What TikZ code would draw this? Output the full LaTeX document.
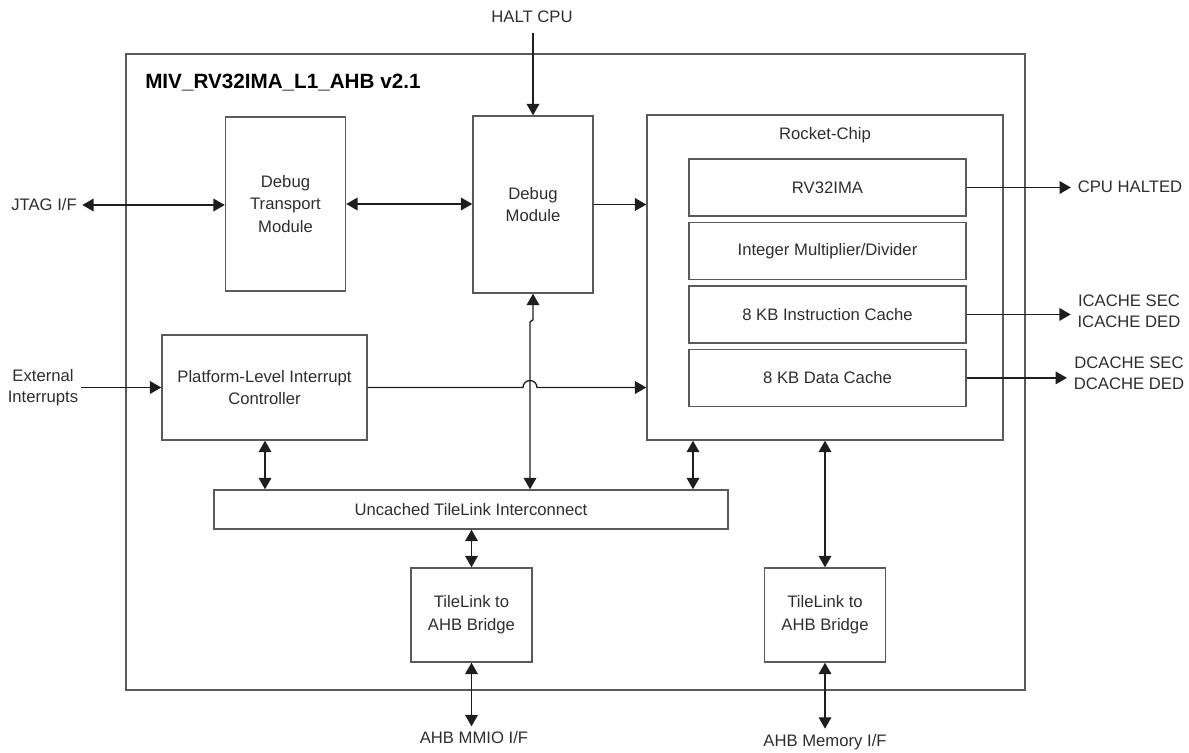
\documentclass[tikz,border=0pt]{standalone}
\usepackage{fontspec}
\setmainfont{Liberation Sans}
\usepackage{xcolor}
\usepackage{tikz}
\usetikzlibrary{arrows.meta, positioning}
\definecolor{BoxGray}{HTML}{5A5A5A}
\definecolor{WireBlack}{HTML}{1E1E1E}
\definecolor{TextGray}{HTML}{2E2E2E}

\begin{document}
\begin{tikzpicture}[
    x=0.75pt, y=-0.75pt,
    every node/.style={font=\fontsize{12.5}{17}\selectfont, text=TextGray},
    blk/.style={
      draw=BoxGray, line width=1.1pt, align=center, inner sep=0pt
    },
    lbl/.style={align=center, inner sep=4pt, font=\fontsize{12.5}{15.5}\selectfont},
    wire/.style={draw=WireBlack, line width=1pt, -{Triangle[length=8.5pt,width=9.5pt]}},
    biwire/.style={wire, {Triangle[length=8.5pt,width=9.5pt]}-{Triangle[length=8.5pt,width=9.5pt]}}
  ]
    \useasboundingbox (0,0) rectangle (1189,753);

    % core frame
    \node[blk, minimum width=674.25pt, minimum height=477pt] (core) at (575.5,372) {};
    \node[anchor=base west, inner sep=0pt, font=\fontsize{15.5}{18}\selectfont\bfseries, text=black]
      (title) at (145,88) {MIV\_RV32IMA\_L1\_AHB v2.1};

    % debug path
    \node[blk, minimum width=90pt, minimum height=130.5pt] (dtm) at (285.5,204) {Debug\\Transport\\Module};
    \node[blk, minimum width=90pt, minimum height=132.75pt] (dbg) at (533,204.5) {Debug\\Module};

    % rocket chip
    \node[blk, minimum width=267pt, minimum height=243.75pt] (rocket) at (825,277.5) {};
    \node[inner sep=0pt] (rcname) at (825,135) {Rocket-Chip};
    \node[blk, minimum width=207.75pt, minimum height=42.75pt] (rv) at (827.5,187.5) {RV32IMA};
    \node[blk, minimum width=207.75pt, minimum height=42.75pt, below=3.75pt of rv] (mul) {Integer Multiplier/Divider};
    \node[blk, minimum width=207.75pt, minimum height=42.75pt, below=3.75pt of mul] (ic) {8 KB Instruction Cache};
    \node[blk, minimum width=207.75pt, minimum height=42.75pt, below=3.75pt of ic] (dc) {8 KB Data Cache};

    % interrupt controller, interconnect, bridges
    \node[blk, minimum width=153.75pt, minimum height=78.75pt] (plic) at (264.5,387.5) {Platform-Level Interrupt\\Controller};
    \node[blk, minimum width=385.5pt, minimum height=29.25pt] (tl) at (471,509.5) {Uncached TileLink Interconnect};
    \node[blk, minimum width=90.75pt, minimum height=70.5pt] (br1) at (471.5,615) {TileLink to\\AHB Bridge};
    \node[blk, minimum width=90.75pt, minimum height=70.5pt] (br2) at (825,615) {TileLink to\\AHB Bridge};

    % external signals
    \node[lbl, inner ysep=7pt] (halt) at (532,17) {HALT CPU};
    \node[lbl] (jtag) at (44,205) {JTAG I/F};
    \node[lbl, inner xsep=2pt] (extint) at (43,388) {External\\Interrupts};
    \node[lbl, inner xsep=5pt] (halted) at (1130,187) {CPU HALTED};
    \node[lbl, inner xsep=5pt] (icerr) at (1129,311) {ICACHE SEC\\ICACHE DED};
    \node[lbl, inner xsep=5pt] (dcerr) at (1129,373) {DCACHE SEC\\DCACHE DED};
    \node[lbl] (mmio) at (474,738) {AHB MMIO I/F};
    \node[lbl] (mem) at (825,742) {AHB Memory I/F};

    \coordinate (jog) at (530,322);
    \coordinate (ptap) at (265,0);
    \coordinate (rtap) at (693,0);

    % connectors
    \draw[wire] (halt.south -| dbg.north) -- (dbg.north);
    \draw[biwire] (jtag.east) -- (jtag.east -| dtm.west);
    \draw[biwire] (dtm.east) -- (dtm.east -| dbg.west);
    \draw[wire] (dbg.east) -- (dbg.east -| rocket.west);
    \draw[wire] (rv.east) -- (rv.east -| halted.west);
    \draw[wire] (ic.east) -- (ic.east -| icerr.west);
    \draw[wire] (dc.east) -- (dc.east -| dcerr.west);
    \draw[wire] (extint.east |- plic.west) -- (plic.west);
    \draw[wire] (plic.east) -- ([xshift=-5.25pt]jog |- plic.east) arc (180:0:5.25pt) -- (plic.east -| rocket.west);
    \draw[biwire] (dbg.south) -- ++(0,26) -- (jog) -- (jog |- tl.north);
    \draw[biwire] (ptap |- plic.south) -- (ptap |- tl.north);
    \draw[biwire] (rtap |- rocket.south) -- (rtap |- tl.north);
    \draw[biwire] (rocket.south) -- (br2.north);
    \draw[biwire] (br1.north |- tl.south) -- (br1.north);
    \draw[biwire] (br1.south) -- (br1.south |- mmio.north);
    \draw[biwire] (br2.south) -- (br2.south |- mem.north);
\end{tikzpicture}
\end{document}
